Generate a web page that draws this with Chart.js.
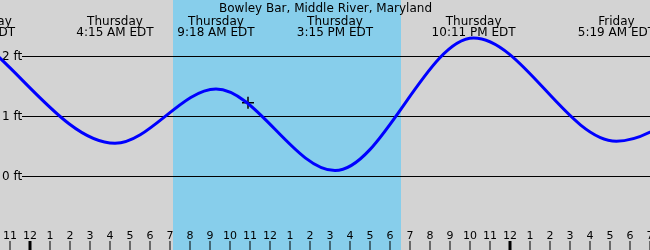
<!DOCTYPE html>
<html>
<head>
<meta charset="utf-8">
<script src="https://cdn.jsdelivr.net/npm/chart.js@4/dist/chart.umd.min.js"></script>
<style>
  html, body { margin: 0; padding: 0; background: #d3d3d3; }
  canvas { display: block; }
</style>
</head>
<body>
<canvas id="myChart" width="650" height="250"></canvas>
<script>
// hours counted from Thursday 00:00 (EDT)
var title = "Bowley Bar, Middle River, Maryland";
var tideTimes = [-2.65, 4.25, 9.3, 15.25, 22.18, 29.32, 35.6];
var tideLevels = [2.3, 0.545, 1.45, 0.09, 2.3, 0.58, 1.8];
var tideDays = ["Wednesday", "Thursday", "Thursday", "Thursday", "Thursday", "Friday", "Friday"];
var tideClock = ["9:21 PM EDT", "4:15 AM EDT", "9:18 AM EDT", "3:15 PM EDT", "10:11 PM EDT", "5:19 AM EDT", "11:36 AM EDT"];
var sunrise = 7.15;
var sunset = 18.55;
var nowTime = [10.9];
var nowLevel = [1.22];
var hourTicks = [-1, 0, 1, 2, 3, 4, 5, 6, 7, 8, 9, 10, 11, 12, 13, 14, 15, 16, 17, 18, 19, 20, 21, 22, 23, 24, 25, 26, 27, 28, 29, 30, 31];
var hourLabels = ["11", "12", "1", "2", "3", "4", "5", "6", "7", "8", "9", "10", "11", "12", "1", "2", "3", "4", "5", "6", "7", "8", "9", "10", "11", "12", "1", "2", "3", "4", "5", "6", "7"];
var midnights = [0, 24];
var levelTicks = [0, 1, 2];
var levelLabels = ["0 ft", "1 ft", "2 ft"];

var FONT = "DejaVu Sans";

const ctx = document.getElementById("myChart");

// background, daylight band, level lines
const backdrop = {
  id: "backdrop",
  beforeDraw(chart) {
    const { ctx, scales: { x, y } } = chart;
    ctx.save();
    ctx.fillStyle = "#d3d3d3";
    ctx.fillRect(0, 0, chart.width, chart.height);
    ctx.fillStyle = "#87ceeb";
    var x0 = Math.round(x.getPixelForValue(sunrise));
    var x1 = Math.round(x.getPixelForValue(sunset));
    ctx.fillRect(x0, 0, x1 - x0, chart.height);

    ctx.strokeStyle = "#000";
    ctx.lineWidth = 1;
    ctx.font = "12px '" + FONT + "'";
    ctx.fillStyle = "#000";
    ctx.textAlign = "left";
    ctx.textBaseline = "middle";
    levelTicks.forEach((v, i) => {
      var py = Math.round(y.getPixelForValue(v)) + 0.5;
      ctx.beginPath();
      ctx.moveTo(22, py);
      ctx.lineTo(chart.width, py);
      ctx.stroke();
      ctx.fillText(levelLabels[i], 2, py + 0.5);
    });
    ctx.restore();
  },
};

// title, tide event labels, hour ticks
const labels = {
  id: "labels",
  afterDatasetsDraw(chart) {
    const { ctx, scales: { x, y } } = chart;
    ctx.save();
    ctx.fillStyle = "#000";
    ctx.textAlign = "center";
    ctx.textBaseline = "alphabetic";
    ctx.font = "12px '" + FONT + "'";
    ctx.fillText(title, 325.5, 12);

    tideTimes.forEach((t, i) => {
      var px = x.getPixelForValue(t);
      ctx.fillText(tideDays[i], px, 25);
      ctx.fillText(tideClock[i], px, 36);
    });

    ctx.font = "11px '" + FONT + "'";
    ctx.strokeStyle = "#000";
    hourTicks.forEach((h, i) => {
      var px = Math.round(x.getPixelForValue(h));
      ctx.fillText(hourLabels[i], px, 239);
      var thick = midnights.indexOf(h) >= 0;
      ctx.fillRect(thick ? px - 1.5 : px - 0.5, 241, thick ? 3 : 1, 9);
    });
    ctx.restore();
  },
};

const config = {
  type: "line",
  data: {
    datasets: [
      {
        label: "tide",
        data: tideTimes.map((t, i) => ({ x: t, y: tideLevels[i] })),
        borderColor: "#0000ff",
        borderWidth: 3,
        pointRadius: 0,
        cubicInterpolationMode: "monotone",
        fill: false,
      },
      {
        label: "now",
        type: "scatter",
        data: nowTime.map((t, i) => ({ x: t, y: nowLevel[i] })),
        pointStyle: "cross",
        pointRadius: 6,
        borderColor: "#000",
        borderWidth: 1.5,
        backgroundColor: "#000",
      },
    ],
  },
  options: {
    responsive: false,
    animation: false,
    layout: { padding: 0, autoPadding: false },
    plugins: {
      legend: { display: false },
      tooltip: { enabled: false },
    },
    scales: {
      x: { type: "linear", min: -1.5, max: 31, display: false },
      y: { type: "linear", min: -74 / 60, max: 176 / 60, display: false },
    },
  },
  plugins: [backdrop, labels],
};

var chart = new Chart(ctx, config);
</script>
</body>
</html>
